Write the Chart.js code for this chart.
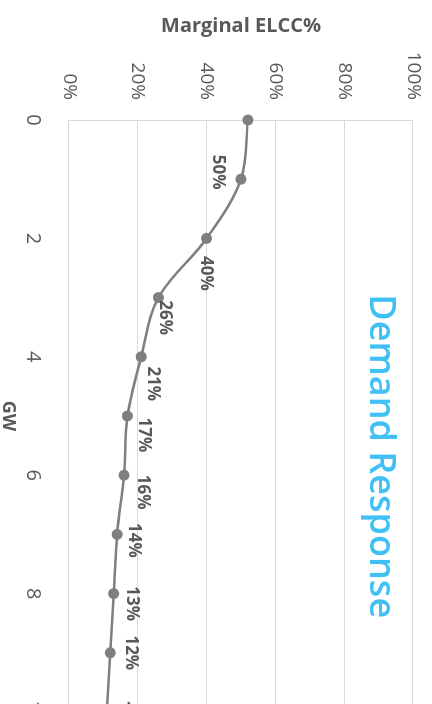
<!DOCTYPE html>
<html>
<head>
<meta charset="utf-8">
<script src="https://cdn.jsdelivr.net/npm/chart.js@4.4.0/dist/chart.umd.min.js"></script>
<style>
  html, body { margin: 0; padding: 0; background: #fff; }
  #view { position: relative; width: 432px; height: 704px; overflow: hidden; background: #fff; }
  /* chart is drawn the normal way, then turned a quarter clockwise */
  #rot { position: absolute; left: 0; top: 0; width: 740px; height: 440px;
         transform-origin: 0 0; transform: translateX(432px) rotate(90deg); }
</style>
</head>
<body>
<div id="view"><div id="rot"><canvas id="elccChart" width="740" height="440"></canvas></div></div>
<script>
// data
const gw = [0, 1, 2, 3, 4, 5, 6, 7, 8, 9, 10];
const elcc = [52, 50, 40, 26, 21, 17, 16, 14, 13, 12, 11];
const gwTicks = [0, 2, 4, 6, 8, 10];
const elccTicks = [0, 20, 40, 60, 80, 100];
const seriesName = 'Demand Response';

const FONT = '"Open Sans", "Noto Sans", sans-serif';
const TEXT = '#595959';
const GRID = '#d9d9d9';

// where each data label sits relative to its point (first point has none)
const labelOffsets = [null, [-7, 23], [35, 1], [20, -6], [27, -12], [19, -16],
                      [17, -19], [6, -17], [10, -18], [0, -21], [6, -17]];

const pointLabels = {
    id: 'pointLabels',
    afterDatasetsDraw(chart) {
        const ctx = chart.ctx;
        const meta = chart.getDatasetMeta(0);
        ctx.save();
        ctx.font = 'bold 17px ' + FONT;
        ctx.fillStyle = TEXT;
        ctx.textAlign = 'center';
        ctx.textBaseline = 'middle';
        meta.data.forEach((pt, i) => {
            const off = labelOffsets[i];
            if (!off) return;
            ctx.fillText(Math.round(elcc[i]) + '%', pt.x + off[0], pt.y + off[1]);
        });

        // series name inside the plot
        const xs = chart.scales.x, ys = chart.scales.y;
        ctx.font = '600 36px ' + FONT;
        ctx.fillStyle = '#41c0f5';
        ctx.fillText(seriesName, xs.getPixelForValue(5.68), ys.getPixelForValue(90.4));
        ctx.restore();
    }
};

new Chart(document.getElementById('elccChart'), {
    type: 'scatter',
    data: {
        datasets: [{
            label: seriesName,
            data: gw.map((g, i) => ({ x: g, y: elcc[i] })),
            showLine: true,
            borderColor: '#7f7f7f',
            borderWidth: 2.5,
            backgroundColor: '#7f7f7f',
            pointRadius: 5.5,
            pointBorderWidth: 0,
            tension: 0.35,
            clip: false
        }]
    },
    options: {
        responsive: false,
        animation: false,
        devicePixelRatio: 1,
        layout: { padding: { top: 19, right: 28, left: 0, bottom: 0 } },
        plugins: { legend: { display: false }, tooltip: { enabled: false } },
        scales: {
            x: {
                type: 'linear',
                min: 0, max: 10,
                afterBuildTicks: s => { s.ticks = gwTicks.map(v => ({ value: v })); },
                afterFit: s => { s.height = 77; s.paddingLeft = 0; s.paddingRight = 0; },
                grid: { display: false },
                border: { display: true, color: GRID, width: 1 },
                ticks: { padding: 16, color: TEXT, font: { family: FONT, size: 20 } },
                title: { display: true, text: 'GW', color: TEXT,
                         font: { family: FONT, size: 18, weight: 'bold' }, padding: { top: 0, bottom: 5 } }
            },
            y: {
                min: 0, max: 100,
                afterBuildTicks: s => { s.ticks = elccTicks.map(v => ({ value: v })); },
                afterFit: s => { s.width = 120; s.paddingTop = 0; s.paddingBottom = 0; },
                grid: { color: GRID, lineWidth: 1, drawTicks: false },
                border: { display: true, color: GRID, width: 1 },
                ticks: { padding: 20, color: TEXT, font: { family: FONT, size: 19 },
                         callback: v => v + '%' },
                title: { display: true, text: 'Marginal ELCC%', color: TEXT,
                         font: { family: FONT, size: 20, weight: 'bold' }, padding: { top: 14, bottom: 0 } }
            }
        }
    },
    plugins: [pointLabels]
});
</script>
</body>
</html>
